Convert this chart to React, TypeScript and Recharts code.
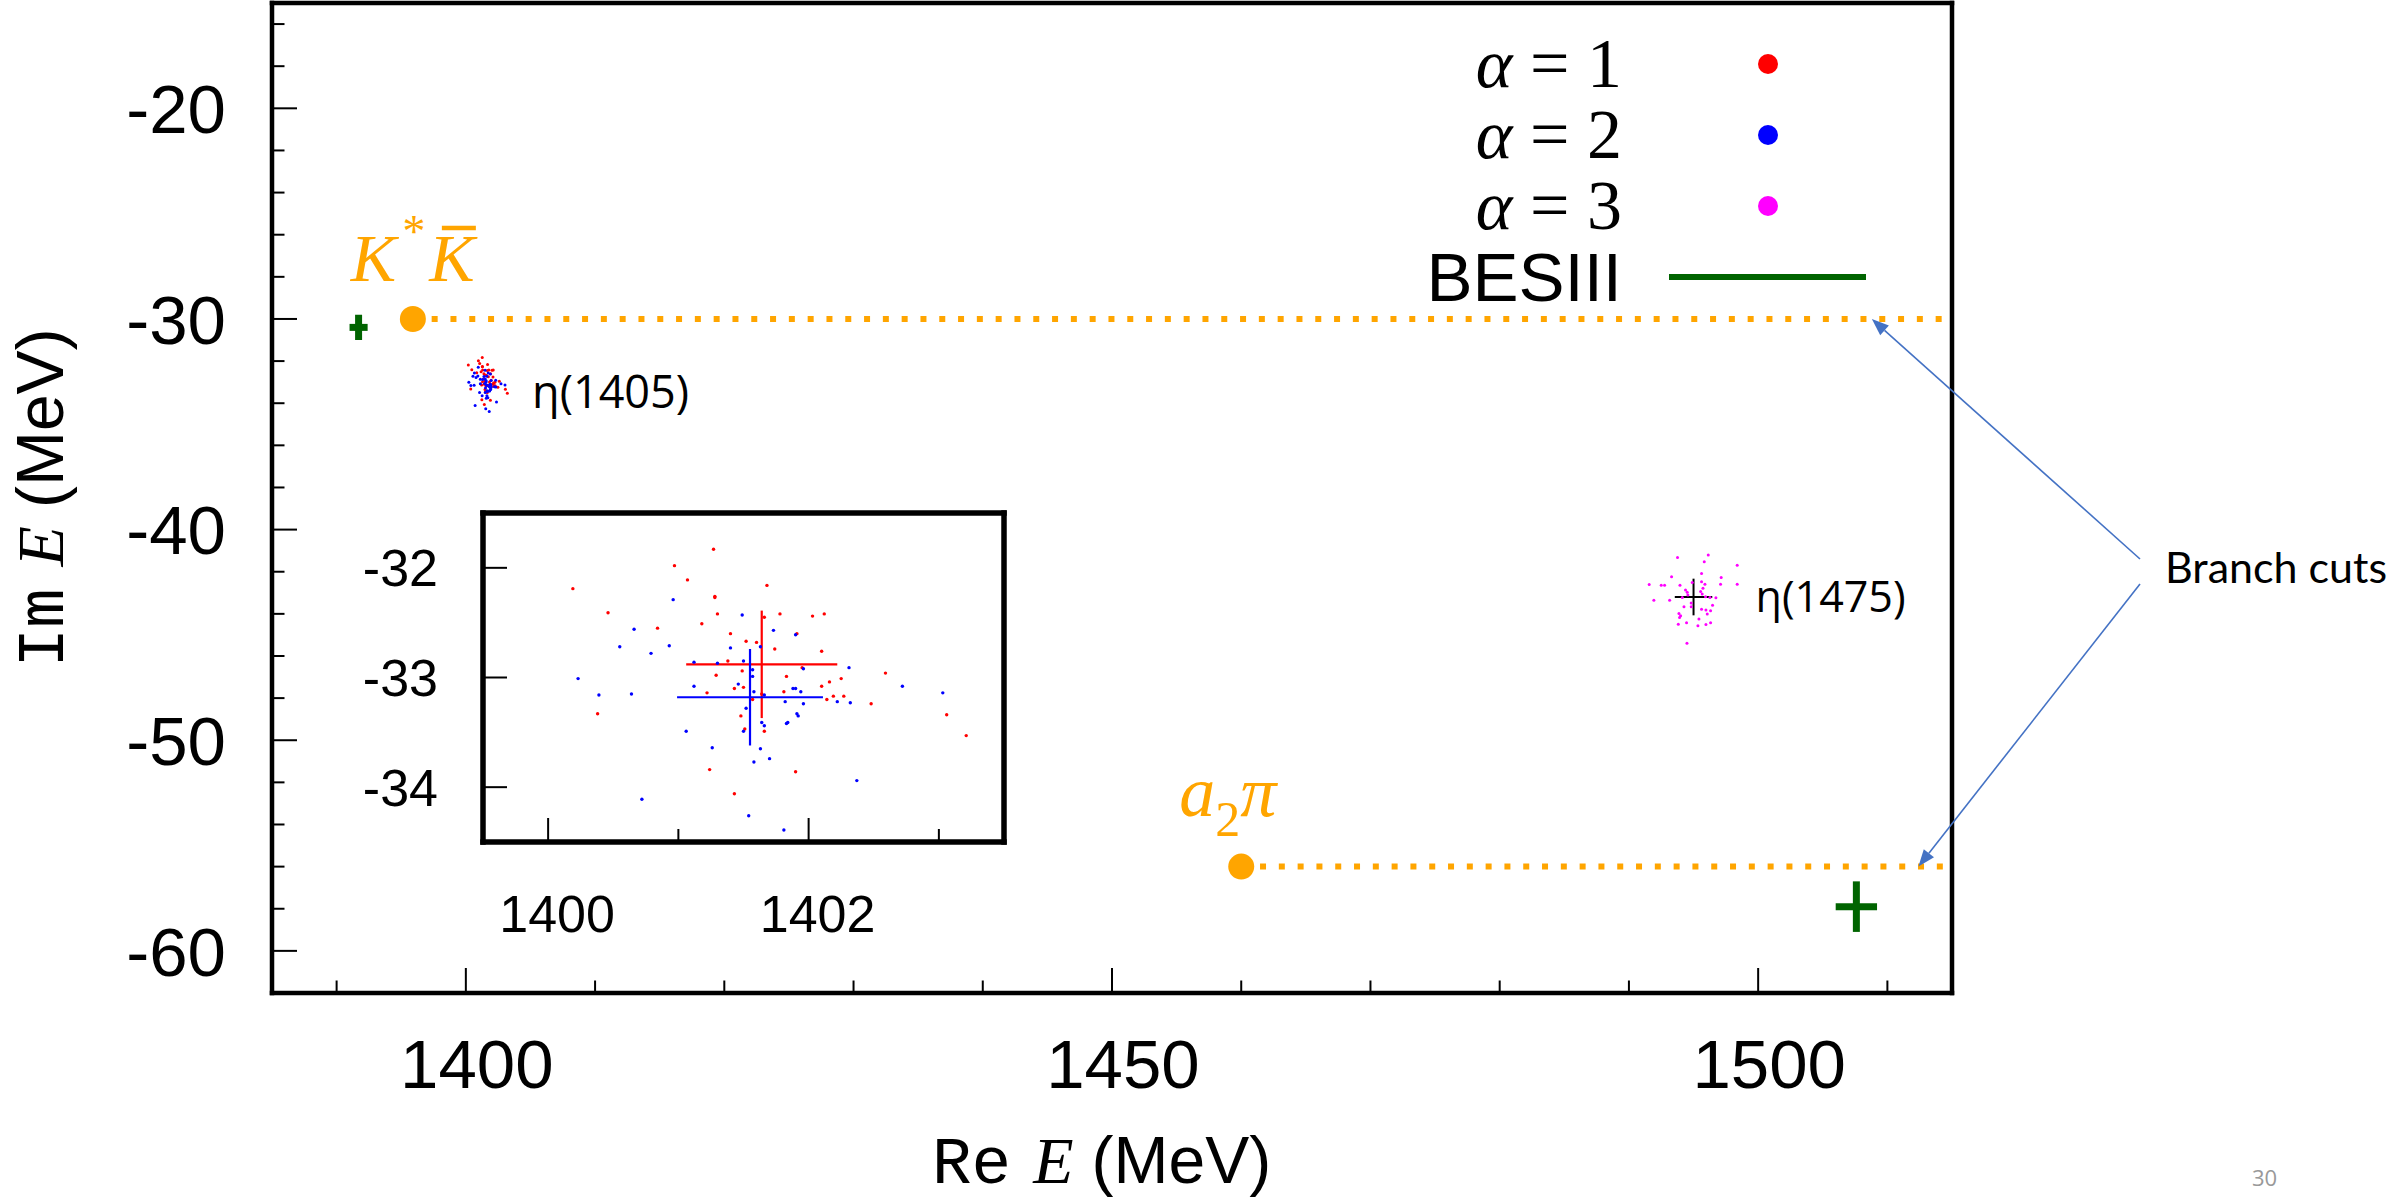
import React from 'react';
import { ScatterChart, Scatter, XAxis, YAxis, ErrorBar, Legend } from 'recharts';

const W = 2392;
const H = 1204;

const SANS = '"Liberation Sans", Arial, Helvetica, sans-serif';
const SERIF = '"Liberation Serif", "Times New Roman", serif';
const MONO = '"Liberation Mono", "Courier New", monospace';
const NOTE = '"Open Sans", "Noto Sans", sans-serif';
const ORANGE = '#FFA500';
const GREEN = '#006400';
const ARROW = '#4472C4';

// main panel axes
const reDomain: [number, number] = [1385, 1515];
const imDomain: [number, number] = [-62, -15];
const reTicks = [1390, 1400, 1410, 1420, 1430, 1440, 1450, 1460, 1470, 1480, 1490, 1500, 1510];
const reLabels = [1400, 1450, 1500];
const imTicks = [-60, -58, -56, -54, -52, -50, -48, -46, -44, -42, -40, -38, -36, -34, -32, -30, -28, -26, -24, -22, -20, -18, -16];
const imLabels = [-60, -50, -40, -30, -20];

// zoom panel axes
const zoomReDomain: [number, number] = [1399.5, 1403.5];
const zoomImDomain: [number, number] = [-34.5, -31.5];
const zoomReTicks = [1400, 1401, 1402, 1403];
const zoomReLabels = [1400, 1402];
const zoomImTicks = [-34, -33, -32];

// two-body thresholds (K*Kbar, a2 pi): start of each branch cut
const thresholdRe = [1395.9, 1460.0];
const thresholdIm = [-30.0, -56.0];

// BESIII poles with errors
const besRe = [1391.7, 1507.6];
const besIm = [-30.4, -57.9];
const besReErr = [0.7, 1.6];
const besImErr = [0.6, 1.2];

// where the "Branch cuts" arrows land
const branchTipRe = [1508.8, 1512.4];
const branchTipIm = [-30.0, -56.0];

// eta(1405) poles, alpha = 1
const alpha1Poles: [number, number][] = [
  [1401.27, -31.83], [1400.97, -31.98], [1401.07, -32.11], [1400.19, -32.19], [1401.68, -32.16],
  [1401.28, -32.26], [1401.28, -32.27], [1400.46, -32.41], [1401.30, -32.42], [1401.66, -32.45],
  [1401.78, -32.42], [1402.03, -32.44], [1402.12, -32.42], [1400.84, -32.55], [1401.18, -32.51],
  [1401.40, -32.60], [1401.91, -32.60], [1401.52, -32.67], [1401.60, -32.68], [1401.74, -32.74],
  [1402.10, -32.76], [1401.38, -32.85], [1401.29, -32.98], [1401.83, -32.99], [1401.95, -32.91],
  [1402.59, -32.96], [1402.16, -33.04], [1402.25, -33.01], [1402.10, -33.08], [1401.22, -33.14],
  [1401.43, -33.10], [1401.50, -33.09], [1401.49, -32.94], [1401.81, -33.13], [1402.19, -33.17],
  [1402.27, -33.17], [1402.14, -33.20], [1401.57, -33.20], [1401.64, -33.15], [1402.48, -33.24],
  [1400.38, -33.33], [1403.06, -33.34], [1401.48, -33.35], [1403.21, -33.53], [1401.51, -33.47],
  [1401.66, -33.49], [1401.24, -33.84], [1401.90, -33.86], [1401.43, -34.06],
];

// eta(1405) poles, alpha = 2
const alpha2Poles: [number, number][] = [
  [1400.96, -32.29], [1401.49, -32.43], [1400.66, -32.56], [1401.73, -32.57], [1401.90, -32.61],
  [1400.55, -32.72], [1400.79, -32.78], [1400.93, -32.71], [1401.40, -32.73], [1401.63, -32.72],
  [1401.12, -32.86], [1401.30, -32.87], [1401.50, -32.85], [1401.57, -32.93], [1401.57, -32.99],
  [1401.96, -32.92], [1402.31, -32.91], [1400.23, -33.01], [1401.12, -33.08], [1401.46, -33.06],
  [1401.88, -33.10], [1401.90, -33.10], [1401.94, -33.13], [1401.58, -33.13], [1401.66, -33.16],
  [1400.39, -33.16], [1400.64, -33.15], [1401.82, -33.22], [1401.96, -33.24], [1402.22, -33.22],
  [1402.32, -33.23], [1402.72, -33.08], [1403.03, -33.14], [1401.52, -33.28], [1401.91, -33.33],
  [1401.92, -33.35], [1401.84, -33.41], [1401.83, -33.42], [1401.64, -33.41], [1401.66, -33.44],
  [1401.06, -33.49], [1401.50, -33.49], [1401.26, -33.64], [1401.63, -33.65], [1401.70, -33.74],
  [1401.58, -33.77], [1402.37, -33.94], [1400.72, -34.11], [1401.54, -34.26], [1401.81, -34.39],
];

// eta(1475) poles, alpha = 3
const alpha3Poles: [number, number][] = [
  [1493.76, -41.32], [1496.14, -41.21], [1495.83, -41.53], [1498.38, -41.69], [1493.30, -42.24],
  [1495.62, -42.08], [1491.57, -42.61], [1492.50, -42.64], [1492.76, -42.64], [1493.95, -42.64],
  [1494.90, -42.51], [1495.62, -42.48], [1495.88, -42.59], [1495.73, -42.78], [1497.14, -42.27],
  [1497.09, -42.59], [1498.38, -42.60], [1494.38, -42.87], [1494.51, -42.98], [1494.56, -43.10],
  [1495.55, -42.94], [1495.67, -43.06], [1495.93, -43.19], [1496.27, -43.22], [1496.73, -43.24],
  [1491.93, -43.35], [1493.15, -43.35], [1494.13, -43.22], [1494.82, -43.49], [1494.82, -43.66],
  [1494.26, -43.66], [1495.62, -43.78], [1495.96, -43.82], [1496.32, -43.85], [1496.47, -43.59],
  [1493.87, -43.98], [1494.00, -44.09], [1496.06, -44.01], [1493.92, -44.17], [1495.42, -44.25],
  [1493.82, -44.49], [1494.46, -44.42], [1495.34, -44.57], [1495.96, -44.50], [1496.32, -44.42],
  [1494.49, -45.39],
];

// averages with spread
const alpha1Mean = { re: 1401.64, im: -32.88, dRe: 0.58, dIm: 0.49 };
const alpha2Mean = { re: 1401.55, im: -33.18, dRe: 0.56, dIm: 0.44 };
const alpha3Mean = { re: 1495.0, im: -43.2, dRe: 1.45, dIm: 0.87 };

const legendAlpha = ['1', '2', '3'];
const legendColors = ['#FF0000', '#0000FF', '#FF00FF'];

const toPoints = (poles: [number, number][]) => poles.map(([x, y]) => ({ x, y }));
const meanPoint = (m: typeof alpha1Mean) => [{ x: m.re, y: m.im, ex: m.dRe, ey: m.dIm }];

const thresholdDots = thresholdRe.map((x, i) => ({ x, y: thresholdIm[i] }));
const cutLines = thresholdRe.map((x, i) => [
  { x, y: thresholdIm[i] },
  { x: reDomain[1], y: thresholdIm[i] },
]);
const besData = besRe.map((x, i) => ({ x, y: besIm[i], ex: besReErr[i], ey: besImErr[i] }));
const branchTips = branchTipRe.map((x, i) => ({ x, y: branchTipIm[i] }));

const dot = (r: number, fill: string) => (p: any) => <circle cx={p.cx} cy={p.cy} r={r} fill={fill} />;
const nothing = () => <g />;

// ticks point into the frame; long ones carry the labels
const xTick = (side: 'bottom' | 'top', majors: number[], majorLen: number, minorLen: number,
  fontSize: number, labelDx: number, labelDy: number) => (p: any) => {
  const v = p.payload.value;
  const major = majors.includes(v);
  const len = major ? majorLen : minorLen;
  const d = side === 'bottom' ? -1 : 1;
  return (
    <g>
      <line x1={p.x} x2={p.x} y1={p.y} y2={p.y + d * len} stroke="#000" strokeWidth={2} />
      {major && side === 'bottom' && (
        <text x={p.x + labelDx} y={p.y + labelDy} textAnchor="middle" fontFamily={SANS}
          fontSize={fontSize} fill="#000">{v}</text>
      )}
    </g>
  );
};

const yTick = (side: 'left' | 'right', majors: number[], majorLen: number, minorLen: number,
  fontSize: number, labelGap: number) => (p: any) => {
  const v = p.payload.value;
  const major = majors.includes(v);
  const len = major ? majorLen : minorLen;
  const d = side === 'left' ? 1 : -1;
  return (
    <g>
      <line x1={p.x} x2={p.x + d * len} y1={p.y} y2={p.y} stroke="#000" strokeWidth={2} />
      {major && side === 'left' && (
        <text x={p.x - labelGap} y={p.y + fontSize * 0.358} textAnchor="end" fontFamily={SANS}
          fontSize={fontSize} fill="#000">{v}</text>
      )}
    </g>
  );
};

const XTitle = (props: any) => {
  const vb = props.viewBox;
  return (
    <text x={vb.x + 660} y={vb.y + 190} fontSize={66} fill="#000">
      <tspan fontFamily={MONO}>Re</tspan>
      <tspan fontFamily={SERIF} fontStyle="italic" dx={22}>E</tspan>
      <tspan fontFamily={SANS} dx={18}>(MeV)</tspan>
    </text>
  );
};

const YTitle = (props: any) => {
  const vb = props.viewBox;
  const x = vb.x - 208;
  const y = vb.y + vb.height / 2;
  return (
    <text x={x} y={y} transform={`rotate(-90 ${x} ${y})`} textAnchor="middle" fontSize={66} fill="#000">
      <tspan fontFamily={MONO}>Im</tspan>
      <tspan fontFamily={SERIF} fontStyle="italic" dx={22}>E</tspan>
      <tspan fontFamily={SANS} dx={18}>(MeV)</tspan>
    </text>
  );
};

const thresholdShape = (p: any) => {
  const { cx, cy } = p;
  const isK = p.payload.x === thresholdRe[0];
  return (
    <g>
      <circle cx={cx} cy={cy} r={13} fill={ORANGE} />
      {isK ? (
        <g>
          <text x={cx - 62} y={cy - 38} fontFamily={SERIF} fontStyle="italic" fontSize={68} fill={ORANGE}>
            <tspan>K</tspan>
            <tspan fontSize={46} dx={4} dy={-34}>*</tspan>
            <tspan dx={6} dy={34}>K</tspan>
          </text>
          <line x1={cx + 29} x2={cx + 63} y1={cy - 91} y2={cy - 91} stroke={ORANGE} strokeWidth={4.5} />
        </g>
      ) : (
        <text x={cx - 62} y={cy - 51} fontFamily={SERIF} fontStyle="italic" fontSize={72} fill={ORANGE}>
          <tspan>a</tspan>
          <tspan fontSize={50} fontStyle="normal" dy={20}>2</tspan>
          <tspan dy={-20}>π</tspan>
        </text>
      )}
    </g>
  );
};

const noteAt = (content: string, fontSize: number, dx: number, dy: number) => (p: any) => (
  <text x={p.cx + dx} y={p.cy + dy} fontFamily={NOTE} fontSize={fontSize} fill="#000">{content}</text>
);

// arrows run from the note on the right margin to each cut
const branchArrow = (p: any) => {
  const { cx, cy } = p;
  const ax = 2140;
  const upper = cy < 571;
  const ay = upper ? 559 : 584;
  const dx = cx - ax;
  const dy = cy - ay;
  const L = Math.hypot(dx, dy);
  const ux = dx / L;
  const uy = dy / L;
  const bx = cx - ux * 17;
  const by = cy - uy * 17;
  const px = -uy * 6.5;
  const py = ux * 6.5;
  return (
    <g>
      <line x1={ax} y1={ay} x2={bx} y2={by} stroke={ARROW} strokeWidth={1.6} />
      <polygon points={`${cx},${cy} ${bx + px},${by + py} ${bx - px},${by - py}`} fill={ARROW} />
      {upper && (
        <text x={2165} y={583} fontFamily='Lato, "Open Sans", sans-serif' fontSize={43} fill="#000">
          Branch cuts
        </text>
      )}
    </g>
  );
};

const LegendBox = () => (
  <svg width={520} height={310}>
    {legendAlpha.map((a, i) => (
      <g key={a}>
        <text x={242} y={77 + i * 71} textAnchor="end" fontFamily={SERIF} fontSize={70} fill="#000">
          <tspan fontStyle="italic">α</tspan>
          <tspan> = {a}</tspan>
        </text>
        <circle cx={388} cy={54 + i * 71} r={10} fill={legendColors[i]} />
      </g>
    ))}
    <text x={242} y={291} textAnchor="end" fontFamily={SANS} fontSize={69} fill="#000">BESIII</text>
    <line x1={289} x2={486} y1={267} y2={267} stroke={GREEN} strokeWidth={6} />
  </svg>
);

const frame = (w: number) => ({ stroke: '#000', strokeWidth: w, strokeLinecap: 'square' as const });

const App: React.FC = () => {
  return (
    <div style={{ position: 'absolute', left: 0, top: 0, width: W, height: H, background: '#fff' }}>
      {/* axes are 1px thick boxes, margins put the frame at x 272..1952, y 3..993 */}
      <ScatterChart width={W} height={H} margin={{ top: 2, right: 439, bottom: 210, left: 271 }}>
        <XAxis xAxisId={0} type="number" dataKey="x" domain={reDomain} ticks={reTicks} interval={0}
          height={1} tickSize={0} tickMargin={0} tickLine={false} axisLine={frame(4.5)}
          tick={xTick('bottom', reLabels, 25, 12.5, 69, 11, 95)} label={{ content: XTitle }} />
        <XAxis xAxisId="top" orientation="top" type="number" dataKey="x" domain={reDomain} ticks={reTicks}
          interval={0} height={1} tickSize={0} tickMargin={0} tickLine={false} axisLine={frame(4.5)}
          tick={xTick('top', reLabels, 25, 12.5, 69, 0, 0)} />
        <YAxis yAxisId={0} type="number" dataKey="y" domain={imDomain} ticks={imTicks} interval={0}
          width={1} tickSize={0} tickMargin={0} tickLine={false} axisLine={frame(4.5)}
          tick={yTick('left', imLabels, 25, 12.5, 69, 46)} label={{ content: YTitle }} />
        <YAxis yAxisId="right" orientation="right" type="number" dataKey="y" domain={imDomain} ticks={imTicks}
          interval={0} width={1} tickSize={0} tickMargin={0} tickLine={false} axisLine={frame(4.5)}
          tick={yTick('right', imLabels, 25, 12.5, 69, 0)} />

        {cutLines.map((pts, i) => (
          <Scatter key={`cut${i}`} data={pts} shape={nothing} isAnimationActive={false}
            line={{ stroke: ORANGE, strokeWidth: 6, strokeDasharray: '6 12.8' }} />
        ))}
        <Scatter data={thresholdDots} shape={thresholdShape} isAnimationActive={false} />

        <Scatter data={besData} shape={nothing} isAnimationActive={false}>
          <ErrorBar dataKey="ex" direction="x" width={0} stroke={GREEN} strokeWidth={7} isAnimationActive={false} />
          <ErrorBar dataKey="ey" direction="y" width={0} stroke={GREEN} strokeWidth={7} isAnimationActive={false} />
        </Scatter>

        <Scatter name="α = 1" data={toPoints(alpha1Poles)} shape={dot(1.5, '#FF0000')} isAnimationActive={false} />
        <Scatter name="α = 2" data={toPoints(alpha2Poles)} shape={dot(1.5, '#0000FF')} isAnimationActive={false} />
        <Scatter name="α = 3" data={toPoints(alpha3Poles)} shape={dot(1.5, '#FF00FF')} isAnimationActive={false} />

        <Scatter data={meanPoint(alpha3Mean)} shape={noteAt('η(1475)', 43, 62, 15)} isAnimationActive={false}>
          <ErrorBar dataKey="ex" direction="x" width={0} stroke="#000" strokeWidth={2} isAnimationActive={false} />
          <ErrorBar dataKey="ey" direction="y" width={0} stroke="#000" strokeWidth={2} isAnimationActive={false} />
        </Scatter>
        <Scatter data={meanPoint(alpha1Mean)} shape={noteAt('η(1405)', 45, 45, 28)} isAnimationActive={false} />

        <Scatter data={branchTips} shape={branchArrow} isAnimationActive={false} />

        <Legend layout="horizontal" verticalAlign="middle" align="center"
          wrapperStyle={{ position: 'absolute', left: 1380, top: 10, width: 520, height: 310 }}
          content={() => <LegendBox />} />
      </ScatterChart>

      {/* close-up of the eta(1405) cluster */}
      <div style={{ position: 'absolute', left: 0, top: 0, width: W, height: H }}>
        <ScatterChart width={W} height={H} margin={{ top: 512, right: 1387, bottom: 361, left: 482 }}>
          <XAxis xAxisId={0} type="number" dataKey="x" domain={zoomReDomain} ticks={zoomReTicks} interval={0}
            height={1} tickSize={0} tickMargin={0} tickLine={false} axisLine={frame(5.5)}
            tick={xTick('bottom', zoomReLabels, 24, 13, 52, 9, 90)} />
          <XAxis xAxisId="top" orientation="top" type="number" dataKey="x" domain={zoomReDomain}
            ticks={zoomReTicks} interval={0} height={1} tickSize={0} tickMargin={0} tickLine={false}
            axisLine={frame(5.5)} tick={xTick('top', zoomReLabels, 24, 13, 52, 0, 0)} />
          <YAxis yAxisId={0} type="number" dataKey="y" domain={zoomImDomain} ticks={zoomImTicks} interval={0}
            width={1} tickSize={0} tickMargin={0} tickLine={false} axisLine={frame(5.5)}
            tick={yTick('left', zoomImTicks, 24, 24, 52, 45)} />
          <YAxis yAxisId="right" orientation="right" type="number" dataKey="y" domain={zoomImDomain}
            ticks={zoomImTicks} interval={0} width={1} tickSize={0} tickMargin={0} tickLine={false}
            axisLine={frame(5.5)} tick={yTick('right', zoomImTicks, 24, 24, 52, 0)} />

          <Scatter data={toPoints(alpha1Poles)} shape={dot(1.7, '#FF0000')} isAnimationActive={false} />
          <Scatter data={toPoints(alpha2Poles)} shape={dot(1.7, '#0000FF')} isAnimationActive={false} />
          <Scatter data={meanPoint(alpha1Mean)} shape={nothing} isAnimationActive={false}>
            <ErrorBar dataKey="ex" direction="x" width={0} stroke="#FF0000" strokeWidth={2.2} isAnimationActive={false} />
            <ErrorBar dataKey="ey" direction="y" width={0} stroke="#FF0000" strokeWidth={2.2} isAnimationActive={false} />
          </Scatter>
          <Scatter data={meanPoint(alpha2Mean)} shape={nothing} isAnimationActive={false}>
            <ErrorBar dataKey="ex" direction="x" width={0} stroke="#0000FF" strokeWidth={2.2} isAnimationActive={false} />
            <ErrorBar dataKey="ey" direction="y" width={0} stroke="#0000FF" strokeWidth={2.2} isAnimationActive={false} />
          </Scatter>
        </ScatterChart>
      </div>

      <div style={{ position: 'absolute', left: 2252, top: 1166, fontFamily: NOTE, fontSize: 22, lineHeight: 1, color: '#999' }}>
        30
      </div>
    </div>
  );
};

export default App;
